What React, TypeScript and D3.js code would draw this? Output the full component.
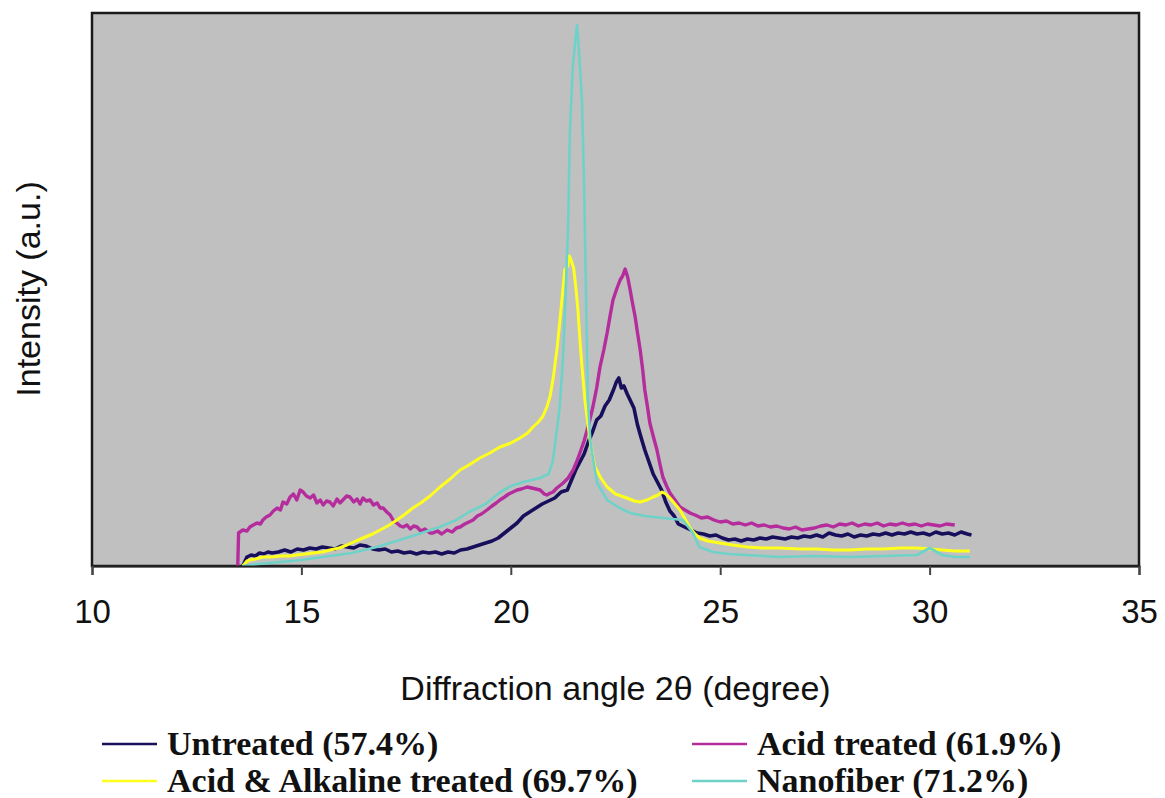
import { useEffect, useRef } from 'react';
import * as d3 from 'd3';

// diffraction angle (2θ) / intensity pairs, arbitrary units
const untreated: [number, number][] = [
  [13.6, 0], [13.7, 9], [13.8, 11], [13.9, 10], [14.0, 13], [14.1, 12], [14.2, 14], [14.3, 13],
  [14.45, 14], [14.6, 16], [14.75, 14], [14.9, 17], [15.05, 16], [15.2, 18], [15.35, 17], [15.5, 19],
  [15.65, 18], [15.8, 17], [15.95, 20], [16.1, 19], [16.25, 18], [16.4, 21], [16.55, 20], [16.7, 17],
  [16.85, 16], [17.0, 17], [17.15, 14], [17.3, 15], [17.45, 13], [17.6, 14], [17.75, 12], [17.9, 14],
  [18.05, 13], [18.2, 14], [18.35, 12], [18.5, 14], [18.65, 13], [18.8, 16], [18.95, 17], [19.1, 19],
  [19.25, 21], [19.4, 23], [19.55, 25], [19.7, 28], [19.85, 33], [20.0, 38], [20.15, 43], [20.3, 50],
  [20.45, 54], [20.6, 58], [20.75, 62], [20.9, 65], [21.05, 68], [21.2, 74], [21.35, 76], [21.45, 86],
  [21.55, 96], [21.65, 104], [21.75, 112], [21.85, 124], [21.95, 134], [22.05, 146], [22.15, 150],
  [22.25, 160], [22.35, 166], [22.45, 176], [22.52, 184], [22.58, 188], [22.64, 178], [22.7, 180],
  [22.78, 172], [22.86, 165], [22.94, 158], [23.02, 142], [23.1, 130], [23.2, 116], [23.3, 104],
  [23.4, 92], [23.5, 84], [23.6, 76], [23.7, 64], [23.8, 55], [23.9, 50], [24.0, 42], [24.1, 40],
  [24.2, 38], [24.3, 36], [24.45, 33], [24.6, 32], [24.75, 30], [24.9, 31], [25.05, 28], [25.2, 26],
  [25.35, 27], [25.5, 25], [25.65, 27], [25.8, 26], [25.95, 28], [26.1, 27], [26.25, 29], [26.4, 28],
  [26.55, 27], [26.7, 29], [26.85, 28], [27.0, 30], [27.15, 29], [27.3, 31], [27.45, 29], [27.6, 33],
  [27.75, 31], [27.9, 30], [28.05, 32], [28.2, 29], [28.35, 31], [28.5, 30], [28.65, 32], [28.8, 31],
  [28.95, 33], [29.1, 31], [29.25, 33], [29.4, 32], [29.55, 34], [29.7, 32], [29.85, 33], [30.0, 31],
  [30.15, 34], [30.3, 32], [30.45, 33], [30.6, 31], [30.75, 34], [30.9, 32], [31.0, 31],
];

const acidTreated: [number, number][] = [
  [13.48, 0], [13.5, 33], [13.6, 36], [13.7, 35], [13.77, 39], [13.85, 41], [13.94, 43], [14.02, 42],
  [14.08, 46], [14.16, 49], [14.25, 51], [14.33, 55], [14.42, 58], [14.5, 56], [14.56, 64], [14.65, 62],
  [14.73, 69], [14.81, 72], [14.89, 66], [14.97, 76], [15.04, 74], [15.12, 70], [15.21, 68], [15.29, 71],
  [15.37, 63], [15.45, 66], [15.52, 61], [15.6, 65], [15.68, 64], [15.76, 60], [15.85, 67], [15.92, 63],
  [15.99, 66], [16.08, 70], [16.16, 69], [16.25, 64], [16.33, 67], [16.4, 62], [16.47, 68], [16.55, 65],
  [16.64, 66], [16.72, 61], [16.81, 63], [16.88, 58], [16.95, 58], [17.04, 54], [17.12, 51], [17.2, 45],
  [17.28, 43], [17.36, 40], [17.43, 39], [17.52, 41], [17.6, 37], [17.68, 40], [17.76, 39], [17.85, 35],
  [17.95, 37], [18.07, 33], [18.14, 33], [18.25, 35], [18.35, 32], [18.48, 36], [18.6, 34], [18.7, 38],
  [18.79, 39], [18.9, 42], [19.0, 44], [19.1, 46], [19.2, 50], [19.3, 52], [19.43, 56], [19.55, 60],
  [19.65, 63], [19.74, 66], [19.85, 69], [19.95, 72], [20.05, 74], [20.15, 76], [20.25, 77], [20.39, 79],
  [20.5, 78], [20.6, 77], [20.7, 76], [20.8, 72], [20.86, 71], [20.95, 73], [21.01, 74], [21.1, 78],
  [21.25, 83], [21.37, 88], [21.49, 96], [21.57, 104], [21.65, 113], [21.75, 125], [21.85, 140],
  [21.96, 159], [22.05, 178], [22.13, 199], [22.22, 216], [22.3, 233], [22.37, 250], [22.44, 266],
  [22.52, 276], [22.61, 286], [22.67, 290], [22.73, 297], [22.79, 289], [22.85, 276], [22.91, 262],
  [22.97, 249], [23.03, 232], [23.09, 216], [23.15, 196], [23.2, 176], [23.26, 160], [23.32, 143],
  [23.4, 130], [23.49, 116], [23.56, 102], [23.63, 89], [23.72, 80], [23.8, 73], [23.92, 66], [24.04, 59],
  [24.16, 56], [24.28, 53], [24.4, 51], [24.55, 48], [24.7, 49], [24.85, 46], [25.0, 44], [25.15, 45],
  [25.3, 42], [25.45, 43], [25.6, 41], [25.75, 43], [25.9, 40], [26.05, 41], [26.2, 39], [26.35, 40],
  [26.5, 38], [26.65, 37], [26.8, 39], [26.95, 36], [27.1, 37], [27.25, 38], [27.4, 40], [27.55, 41],
  [27.7, 39], [27.85, 42], [28.0, 41], [28.15, 43], [28.3, 40], [28.45, 42], [28.6, 41], [28.75, 43],
  [28.9, 40], [29.05, 42], [29.2, 41], [29.35, 43], [29.5, 41], [29.65, 42], [29.8, 40], [29.95, 42],
  [30.1, 41], [30.25, 40], [30.4, 42], [30.6, 41],
];

const acidAlkaline: [number, number][] = [
  [13.6, 0], [13.7, 5], [13.77, 6], [13.9, 7], [14.08, 9], [14.3, 9], [14.5, 10], [14.7, 10], [14.89, 11],
  [15.1, 12], [15.28, 13], [15.5, 14], [15.68, 16], [15.9, 18], [16.09, 21], [16.3, 25], [16.47, 28],
  [16.7, 32], [16.88, 36], [17.1, 41], [17.28, 46], [17.45, 51], [17.66, 58], [17.85, 63], [18.07, 70],
  [18.31, 79], [18.55, 87], [18.79, 96], [19.0, 101], [19.26, 108], [19.5, 113], [19.74, 119], [20.0, 123],
  [20.22, 128], [20.4, 133], [20.53, 139], [20.66, 144], [20.77, 150], [20.87, 160], [20.94, 170],
  [21.02, 190], [21.1, 216], [21.16, 240], [21.22, 266], [21.29, 296], [21.36, 300], [21.4, 310],
  [21.44, 306], [21.5, 298], [21.55, 280], [21.6, 258], [21.65, 226], [21.7, 199], [21.77, 166],
  [21.83, 146], [21.89, 126], [21.95, 111], [22.01, 99], [22.15, 88], [22.3, 79], [22.5, 72], [22.77, 68],
  [22.95, 65], [23.09, 64], [23.25, 66], [23.4, 69], [23.52, 71], [23.61, 74], [23.7, 72], [23.8, 68],
  [23.92, 62], [24.04, 56], [24.16, 47], [24.28, 38], [24.4, 32], [24.51, 28], [24.7, 25], [24.99, 23],
  [25.3, 21], [25.64, 19], [26.0, 18], [26.43, 18], [26.9, 17], [27.3, 17], [27.7, 16], [28.1, 16],
  [28.5, 17], [28.9, 17], [29.3, 18], [29.7, 18], [30.0, 17], [30.3, 16], [30.6, 15], [30.96, 15],
];

const nanofiber: [number, number][] = [
  [13.6, 0], [14.0, 2], [14.5, 4], [15.0, 6], [15.5, 9], [16.2, 13], [16.8, 19], [17.35, 26], [17.8, 32],
  [18.3, 39], [18.7, 46], [19.0, 54], [19.4, 62], [19.75, 74], [20.0, 80], [20.3, 84], [20.5, 86],
  [20.7, 88], [20.9, 92], [21.0, 104], [21.1, 136], [21.17, 160], [21.25, 210], [21.3, 263], [21.37, 343],
  [21.41, 433], [21.48, 499], [21.55, 530], [21.58, 541], [21.62, 520], [21.65, 499], [21.7, 463],
  [21.72, 430], [21.75, 381], [21.8, 263], [21.84, 166], [21.9, 125], [21.94, 113], [22.06, 83],
  [22.3, 66], [22.6, 58], [22.85, 53], [23.2, 50], [23.63, 48], [24.11, 46], [24.35, 33], [24.5, 19],
  [24.83, 14], [25.2, 12], [25.64, 11], [26.4, 9], [27.2, 10], [28.1, 9], [28.9, 10], [29.7, 11],
  [30.0, 18], [30.3, 11], [30.6, 9], [30.96, 9],
];

const xTicks = [10, 15, 20, 25, 30, 35];

const series = [
  { name: 'Untreated (57.4%)', data: untreated, color: '#170f5c', width: 3.6 },
  { name: 'Acid treated (61.9%)', data: acidTreated, color: '#b52c9c', width: 3.4 },
  { name: 'Acid & Alkaline treated (69.7%)', data: acidAlkaline, color: '#ffff1e', width: 3 },
  { name: 'Nanofiber (71.2%)', data: nanofiber, color: '#6fd2c8', width: 2.6 },
];

const W = 1165;
const H = 798;
const plot = { left: 92, top: 13, right: 1139, bottom: 566 };
const sans = '"Liberation Sans", Arial, sans-serif';

export default function App() {
  const axisRef = useRef<SVGGElement>(null);

  const x = d3.scaleLinear().domain([10, 35]).range([plot.left, plot.right]);
  const y = d3.scaleLinear().domain([0, 553]).range([plot.bottom, plot.top]);
  const line = d3
    .line<[number, number]>()
    .x((d) => x(d[0]))
    .y((d) => y(d[1]));

  useEffect(() => {
    if (!axisRef.current) return;
    const g = d3.select(axisRef.current);
    g.selectAll('*').remove();
    g.call(d3.axisBottom(x).tickValues(xTicks).tickSize(9).tickPadding(25).tickFormat(d3.format('d')));
    g.select('.domain').attr('stroke', '#222').attr('stroke-width', 2);
    g.selectAll('.tick line').attr('stroke', '#444').attr('stroke-width', 2);
    g.selectAll('.tick text')
      .attr('fill', '#111')
      .style('font-family', sans)
      .style('font-size', '33px');
  }, []);

  // legend layout: two columns, two rows
  const legendPos = [
    { lx: 102, ty: 744 },
    { lx: 692, ty: 744 },
    { lx: 102, ty: 781 },
    { lx: 692, ty: 781 },
  ];

  return (
    <div style={{ position: 'absolute', left: 0, top: 0 }}>
      <svg width={W} height={H} style={{ display: 'block', background: '#fff' }}>
        <rect
          x={plot.left}
          y={plot.top}
          width={plot.right - plot.left}
          height={plot.bottom - plot.top}
          fill="#c0c0c0"
          stroke="#1a1a1a"
          strokeWidth={2.5}
        />
        <g>
          {series.map((s) => (
            <path
              key={s.name}
              d={line(s.data) || ''}
              fill="none"
              stroke={s.color}
              strokeWidth={s.width}
              strokeLinejoin="round"
            />
          ))}
        </g>
        <g ref={axisRef} transform={`translate(0,${plot.bottom})`} />
        <text
          x={(plot.left + plot.right) / 2}
          y={700}
          textAnchor="middle"
          fill="#111"
          style={{ fontFamily: sans, fontSize: 34 }}
        >
          Diffraction angle 2θ (degree)
        </text>
        <text
          transform={`translate(40,${289}) rotate(-90)`}
          textAnchor="middle"
          fill="#111"
          style={{ fontFamily: sans, fontSize: 34 }}
        >
          Intensity (a.u.)
        </text>
        {series.map((s, i) => {
          const p = legendPos[i];
          return (
            <g key={s.name}>
              <line x1={p.lx} x2={p.lx + 55} y1={p.ty} y2={p.ty} stroke={s.color} strokeWidth={2.5} />
              <text
                x={p.lx + 65}
                y={p.ty + 11}
                fill="#111"
                style={{
                  fontFamily: '"Liberation Serif", "Times New Roman", serif',
                  fontWeight: 'bold',
                  fontSize: 34,
                }}
              >
                {s.name}
              </text>
            </g>
          );
        })}
      </svg>
    </div>
  );
}
